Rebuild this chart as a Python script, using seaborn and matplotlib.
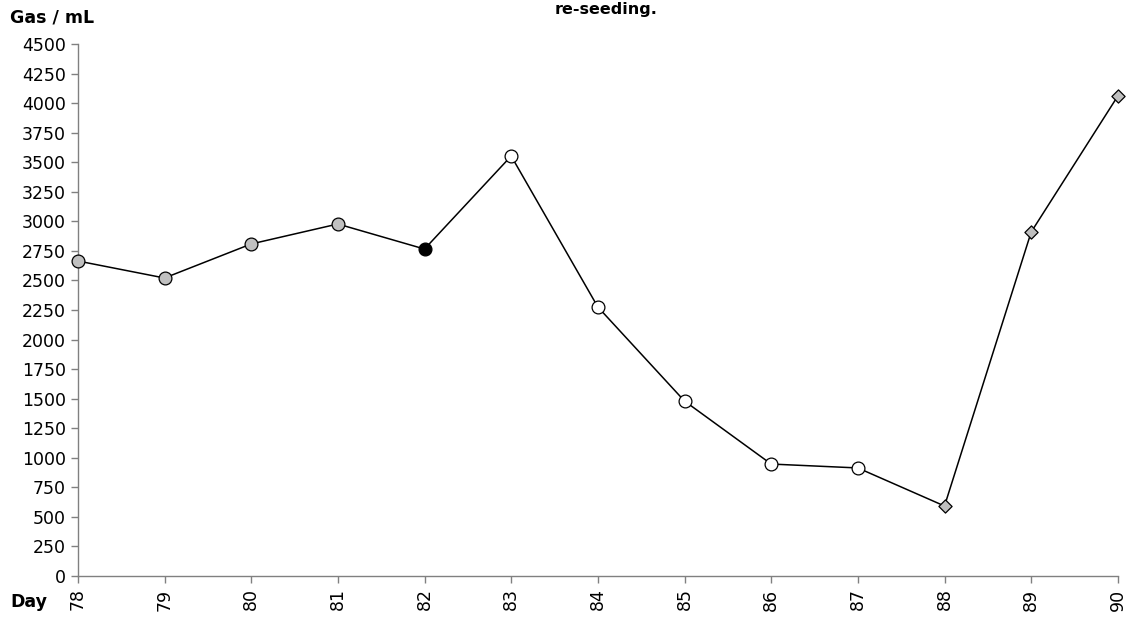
import pandas as pd
import numpy as np
import matplotlib.pyplot as plt
import seaborn as sns

days = [78, 79, 80, 81, 82, 83, 84, 85, 86, 87, 88, 89, 90]
gas_ml = [2665, 2521, 2809, 2978, 2766, 3553, 2276, 1480, 947, 914, 592, 2910, 4061]
phase = ["grey", "grey", "grey", "grey", "black", "open", "open", "open", "open", "open",
         "diamond", "diamond", "diamond"]

df = pd.DataFrame({"day": days, "gas": gas_ml, "phase": phase})

sns.set_style("white")
plt.rcParams['font.family'] = ['DejaVu Sans']
plt.rcParams['text.color'] = 'black'
plt.rcParams['xtick.color'] = 'black'
plt.rcParams['ytick.color'] = 'black'

fig = plt.figure(figsize=(11.28, 6.21), dpi=100)
ax = fig.add_axes([0.069, 0.0725, 0.922, 0.8565])

sns.lineplot(data=df, x="day", y="gas", color="black", linewidth=1.1, ax=ax, zorder=2)

styles = {
    "grey": dict(marker="o", facecolor="#c0c0c0", s=85),
    "black": dict(marker="o", facecolor="black", s=85),
    "open": dict(marker="o", facecolor="white", s=85),
    "diamond": dict(marker="D", facecolor="#c0c0c0", s=45),
}
for key, st in styles.items():
    sub = df[df["phase"] == key]
    sns.scatterplot(data=sub, x="day", y="gas", marker=st["marker"], s=st["s"],
                    color=st["facecolor"], edgecolor="black", linewidth=0.9,
                    ax=ax, zorder=3, legend=False)

ax.set_xlim(78, 90)
ax.set_ylim(0, 4500)
ax.set_xticks(days)
ax.set_xticklabels([str(d) for d in days], rotation=90)
ax.set_yticks(np.arange(0, 4501, 250))
ax.tick_params(axis="both", labelsize=12.5, length=5, width=1, color="#808080",
               labelcolor="black", direction="out", left=True, bottom=True)
ax.tick_params(axis="x", pad=4)
ax.set_xlabel("")
ax.set_ylabel("")
for side in ["top", "right"]:
    ax.spines[side].set_visible(False)
for side in ["left", "bottom"]:
    ax.spines[side].set_color("#808080")
    ax.spines[side].set_linewidth(1)
for coll in ax.collections:
    coll.set_clip_on(False)

fig.text(0.009, 0.972, "Gas / mL", fontsize=12.5, fontweight="bold", color="black",
         ha="left", va="center")
fig.text(0.009, 0.03, "Day", fontsize=12.5, fontweight="bold", color="black",
         ha="left", va="center")
fig.text(0.537, 0.985, "re-seeding.", fontsize=11.5, fontweight="bold", color="black",
         ha="center", va="center")

fig.savefig("out.png", dpi=100)
